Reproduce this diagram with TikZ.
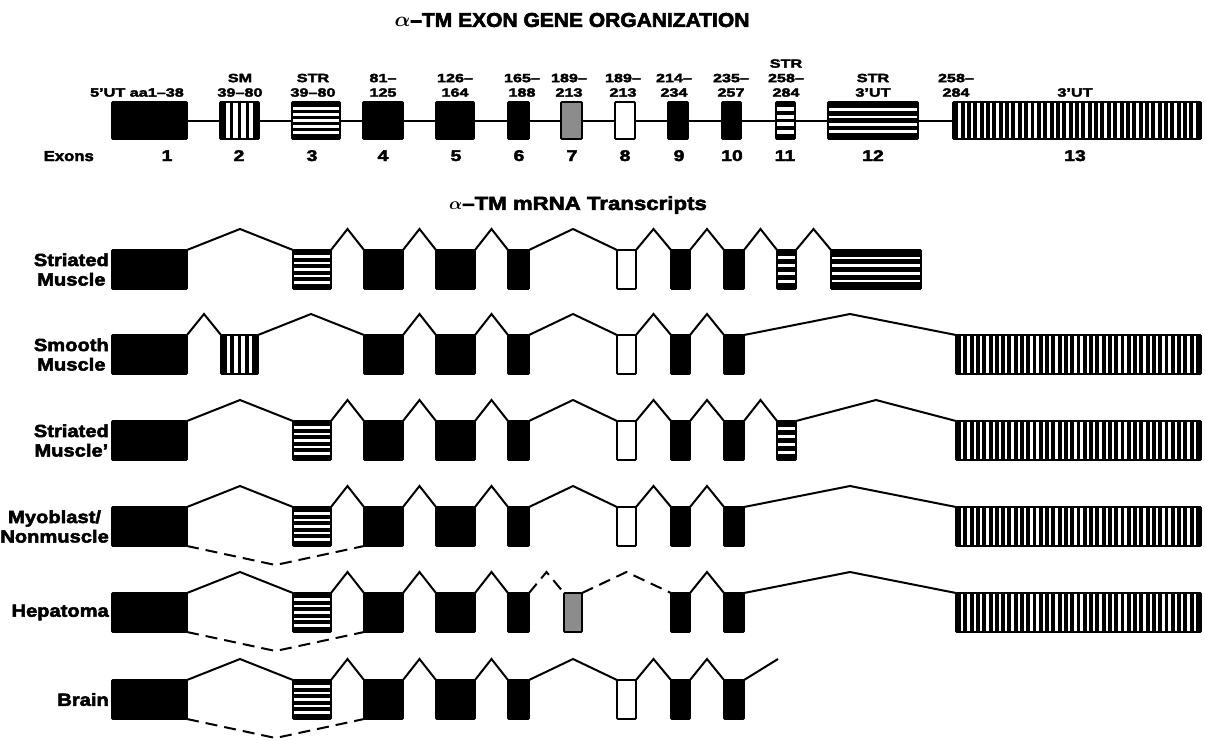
\documentclass[tikz,border=0pt]{standalone}
\usepackage{fontspec}
\setmainfont{Liberation Sans}
\newfontfamily\labf{Liberation Sans}[FakeStretch=1.35,BoldFeatures={FakeBold=3}]
\newfontfamily\rowf{Liberation Sans}[FakeStretch=1.15,BoldFeatures={FakeBold=3}]
\newfontfamily\numf{Liberation Sans}[FakeStretch=1.25,BoldFeatures={FakeBold=3}]
\newfontfamily\titf{Liberation Sans}[FakeStretch=1.05,BoldFeatures={FakeBold=3}]
\newfontfamily\tittf{Liberation Sans}[FakeStretch=1.17,BoldFeatures={FakeBold=3}]
\usetikzlibrary{calc}
\newcommand\setx[3]{\expandafter\def\csname xl#1\endcsname{#2}\expandafter\def\csname xr#1\endcsname{#3}}
\setx{1}{112}{187}
\setx{2}{221}{258}
\setx{3}{293}{331}
\setx{4}{364}{403}
\setx{5}{436}{475}
\setx{6}{508}{529}
\setx{7}{564}{582}
\setx{8}{617}{636}
\setx{9}{671}{690}
\setx{10}{724}{744}
\setx{11}{777}{796}
\setx{12}{831}{921}
\setx{13}{956}{1201}
\newcommand\exn[5]{\node[exon,#5,minimum width={(#3-#2)*1pt}] (#1) at (#2,#4) {};}
\newcommand\tx[3]{\exn{r#1e#2}{\csname xl#2\endcsname}{\csname xr#2\endcsname}{#3}{tr,st#2}}
\newcommand\intr[2]{\draw[conn] (#1.north east) -- ($(#1.north east)!.5!(#2.north west)+(0,-21)$) -- (#2.north west);}
\newcommand\skp[2]{\draw[skipln] (#1.south east) -- ($(#1.south east)!.5!(#2.south west)+(0,19)$) -- (#2.south west);}
\begin{document}
\begin{tikzpicture}[x=1pt,y=-1pt,
  exon/.style={draw=black,line width=1.8pt,rounded corners=1pt,inner sep=0pt,outer sep=0pt,anchor=north west},
  gene/.style={minimum height=37pt},
  tr/.style={minimum height=39pt},
  blk/.style={fill=black},
  wht/.style={fill=white},
  dot/.style={fill=black!45},
  hstr/.style 2 args={fill=black,path picture={
    \foreach \k in {1,...,#1}{
      \draw[white,line width=#2]
        ($(path picture bounding box.north west)!{\k/(#1+1)}!(path picture bounding box.south west)$) --
        ($(path picture bounding box.north east)!{\k/(#1+1)}!(path picture bounding box.south east)$);
    }}},
  vstr/.style 2 args={fill=black,path picture={
    \foreach \k in {1,...,#1}{
      \draw[white,line width=#2]
        ($(path picture bounding box.north west)!{\k/(#1+1)}!(path picture bounding box.north east)$) --
        ($(path picture bounding box.south west)!{\k/(#1+1)}!(path picture bounding box.south east)$);
    }}},
  st1/.style={blk}, st2/.style={vstr={4}{3.6pt}}, st3/.style={hstr={5}{2.8pt}},
  st4/.style={blk}, st5/.style={blk}, st6/.style={blk}, st7/.style={dot},
  st8/.style={wht}, st9/.style={blk}, st10/.style={blk},
  st11/.style={hstr={4}{2.8pt}}, st12/.style={hstr={4}{2.4pt}},
  st13/.style={vstr={38}{2.4pt}},
  conn/.style={line width=2pt},
  skipln/.style={line width=2pt,dash pattern=on 12pt off 7pt},
  toplab/.style={anchor=south,inner sep=0pt,align=center,font={\labf\bfseries\fontsize{12}{14.5}\selectfont}},
  numlab/.style={anchor=base,inner sep=0pt,font={\numf\bfseries\fontsize{15.5}{15.5}\selectfont}},
  rowlab/.style={anchor=east,inner sep=0pt,align=center,font={\rowf\bfseries\fontsize{17.5}{19.5}\selectfont}},
]
\useasboundingbox (0,0) rectangle (1205,740);
% titles
\node[font={\titf\bfseries\fontsize{20}{20}\selectfont}] (T1) at (572,20) {{\boldmath$\alpha$}–TM EXON GENE ORGANIZATION};
\node[font={\tittf\bfseries\fontsize{19}{19}\selectfont}] (T2) at (578,205) {{\boldmath$\alpha$}–TM mRNA Transcripts};
% gene organization
\exn{g1}{112}{187}{102}{gene,blk}
\exn{g2}{220}{259}{102}{gene,vstr={4}{4.4pt}}
\exn{g3}{292}{340}{102}{gene,hstr={5}{3.3pt}}
\exn{g4}{363}{403}{102}{gene,blk}
\exn{g5}{436}{474}{102}{gene,blk}
\exn{g6}{508}{529}{102}{gene,blk}
\exn{g7}{561}{582}{102}{gene,dot}
\exn{g8}{615}{635}{102}{gene,wht}
\exn{g9}{668}{688}{102}{gene,blk}
\exn{g10}{722}{741}{102}{gene,blk}
\exn{g11}{776}{795}{102}{gene,hstr={4}{4pt}}
\exn{g12}{828}{918}{102}{gene,hstr={4}{2.6pt}}
\exn{g13}{953}{1201}{102}{gene,vstr={38}{2.4pt}}
\foreach \a/\b in {g1/g2,g2/g3,g3/g4,g4/g5,g5/g6,g6/g7,g7/g8,g8/g9,g9/g10,g10/g11,g11/g12,g12/g13}
  \draw[conn] (\a.east) -- (\b.west);
% top labels
\node[toplab] (a1) at (137,97) {5’UT aa1–38};
\node[toplab] (a2) at (240,97) {SM\\39–80};
\node[toplab] (a3) at (313,97) {STR\\39–80};
\node[toplab] (a4) at (383,97) {81–\\125};
\node[toplab] (a5) at (455,97) {126–\\164};
\node[toplab] (a6) at (522,97) {165–\\188};
\node[toplab] (a7) at (569,97) {189–\\213};
\node[toplab] (a8) at (623,97) {189–\\213};
\node[toplab] (a9) at (674,97) {214–\\234};
\node[toplab] (a10) at (731,97) {235–\\257};
\node[toplab] (a11) at (786,97) {STR\\258–\\284};
\node[toplab] (a12) at (873,97) {STR\\3’UT};
\node[toplab] (a13) at (956,97) {258–\\284};
\node[toplab] (a14) at (1075,97) {3’UT};
% exon numbers
\node[anchor=base east,inner sep=0pt,font={\rowf\bfseries\fontsize{14.5}{14.5}\selectfont}] (ex) at (94,161) {Exons};
\foreach \n/\x in {1/167,2/239,3/312,4/383,5/456,6/519,7/572,8/625,9/679,10/732,11/785,12/873,13/1075}
  \node[numlab] (n\n) at (\x,161) {\n};
% row 1: striated muscle
\foreach \k in {1,3,4,5,6,8,9,10,11,12} {\tx{1}{\k}{250}}
\foreach \a/\b in {1/3,3/4,4/5,5/6,6/8,8/9,9/10,10/11,11/12} {\intr{r1e\a}{r1e\b}}
\node[rowlab] (l1) at (109,269.5) {Striated\\Muscle};
% row 2: smooth muscle
\foreach \k in {1,2,4,5,6,8,9,10,13} {\tx{2}{\k}{335}}
\foreach \a/\b in {1/2,2/4,4/5,5/6,6/8,8/9,9/10,10/13} {\intr{r2e\a}{r2e\b}}
\node[rowlab] (l2) at (109,354.5) {Smooth\\Muscle};
% row 3: striated muscle'
\foreach \k in {1,3,4,5,6,8,9,10,11,13} {\tx{3}{\k}{421}}
\foreach \a/\b in {1/3,3/4,4/5,5/6,6/8,8/9,9/10,10/11,11/13} {\intr{r3e\a}{r3e\b}}
\node[rowlab] (l3) at (109,440.5) {Striated\\Muscle’};
% row 4: myoblast
\foreach \k in {1,3,4,5,6,8,9,10,13} {\tx{4}{\k}{507}}
\foreach \a/\b in {1/3,3/4,4/5,5/6,6/8,8/9,9/10,10/13} {\intr{r4e\a}{r4e\b}}
\skp{r4e1}{r4e4}
\node[rowlab] (l4) at (109,526.5) {Myoblast/\\Nonmuscle};
% row 5: hepatoma
\foreach \k in {1,3,4,5,6,7,9,10,13} {\tx{5}{\k}{593}}
\foreach \a/\b in {1/3,3/4,4/5,5/6,9/10,10/13} {\intr{r5e\a}{r5e\b}}
\draw[skipln] (r5e6.north east) -- ($(r5e6.north east)!.5!(r5e7.north west)+(0,-21)$) -- (r5e7.north west);
\draw[skipln] (r5e7.north east) -- ($(r5e7.north east)!.5!(r5e9.north west)+(0,-21)$) -- (r5e9.north west);
\skp{r5e1}{r5e4}
\node[rowlab] (l5) at (109,612.5) {Hepatoma};
% row 6: brain
\foreach \k in {1,3,4,5,6,8,9,10} {\tx{6}{\k}{680}}
\foreach \a/\b in {1/3,3/4,4/5,5/6,6/8,8/9,9/10} {\intr{r6e\a}{r6e\b}}
\skp{r6e1}{r6e4}
\coordinate (bend) at (778,659);
\draw[conn] (r6e10.north east) -- (bend);
\node[rowlab] (l6) at (109,699.5) {Brain};
\end{tikzpicture}
\end{document}
